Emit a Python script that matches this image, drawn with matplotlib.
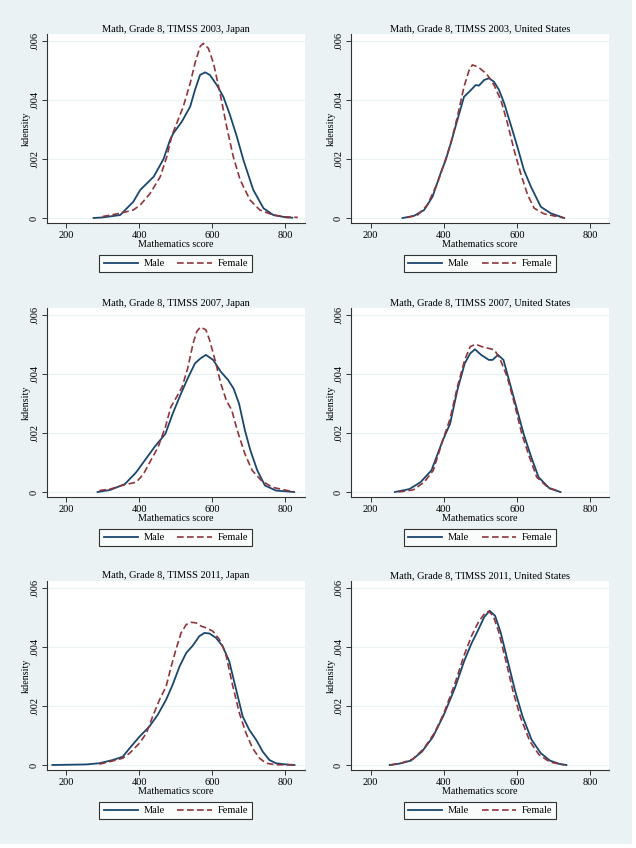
import numpy as np
import matplotlib
matplotlib.use("Agg")
import matplotlib.pyplot as plt
from matplotlib.patches import Rectangle

plt.rcParams['font.family'] = ['Liberation Serif', 'DejaVu Serif']

# kernel density curves: (score, density x 1000)
jp03_m_x = [275, 300, 348, 384, 403, 440, 467, 485, 494, 517, 540, 553, 567, 581, 594, 613, 631, 649, 668, 686, 713, 741, 768, 804, 820]
jp03_m_y = [0.0, 0.02, 0.1, 0.55, 0.95, 1.4, 2.0, 2.65, 2.87, 3.26, 3.77, 4.33, 4.84, 4.93, 4.84, 4.5, 4.1, 3.49, 2.75, 1.96, 0.95, 0.33, 0.1, 0.02, 0.01]
jp03_f_x = [300, 348, 384, 403, 430, 458, 476, 490, 503, 521, 540, 553, 567, 576, 590, 604, 622, 640, 658, 677, 704, 731, 768, 800, 835]
jp03_f_y = [0.05, 0.16, 0.27, 0.44, 0.83, 1.4, 2.08, 2.8, 3.2, 3.77, 4.56, 5.23, 5.8, 5.91, 5.74, 5.23, 4.22, 3.09, 2.08, 1.29, 0.61, 0.27, 0.1, 0.04, 0.02]

us03_m_x = [287, 318, 346, 369, 391, 405, 419, 437, 455, 474, 487, 496, 510, 524, 537, 551, 565, 583, 601, 619, 638, 665, 692, 729]
us03_m_y = [0.0, 0.07, 0.27, 0.72, 1.51, 1.96, 2.53, 3.32, 4.1, 4.33, 4.5, 4.48, 4.67, 4.73, 4.61, 4.33, 3.88, 3.15, 2.41, 1.62, 1.06, 0.38, 0.16, 0.0]
us03_f_x = [300, 328, 355, 382, 401, 419, 437, 455, 469, 478, 492, 505, 519, 537, 556, 574, 592, 610, 629, 647, 674, 729]
us03_f_y = [0.02, 0.1, 0.44, 1.17, 1.85, 2.53, 3.43, 4.44, 5.0, 5.18, 5.12, 5.0, 4.84, 4.5, 3.99, 3.2, 2.3, 1.51, 0.78, 0.33, 0.14, 0.0]

jp07_m_x = [286, 321, 361, 392, 422, 442, 472, 492, 513, 533, 553, 568, 583, 603, 624, 644, 659, 674, 690, 705, 724, 745, 775, 825]
jp07_m_y = [0.0, 0.07, 0.27, 0.67, 1.18, 1.52, 1.97, 2.65, 3.28, 3.84, 4.35, 4.52, 4.64, 4.47, 4.07, 3.79, 3.5, 2.99, 2.09, 1.41, 0.73, 0.22, 0.05, 0.0]
jp07_f_x = [291, 321, 361, 392, 412, 432, 452, 472, 487, 503, 518, 533, 548, 558, 568, 583, 593, 608, 624, 639, 654, 669, 690, 710, 735, 765, 826]
jp07_f_y = [0.05, 0.1, 0.25, 0.33, 0.61, 1.07, 1.52, 2.2, 2.88, 3.22, 3.56, 4.18, 5.03, 5.43, 5.58, 5.49, 5.15, 4.47, 3.67, 3.1, 2.77, 2.09, 1.29, 0.73, 0.39, 0.16, 0.0]

us07_m_x = [266, 306, 336, 366, 397, 417, 437, 457, 472, 485, 502, 523, 533, 548, 563, 578, 598, 618, 639, 659, 689, 719]
us07_m_y = [0.0, 0.1, 0.33, 0.73, 1.75, 2.31, 3.45, 4.35, 4.69, 4.83, 4.64, 4.47, 4.47, 4.64, 4.47, 3.79, 2.88, 1.97, 1.18, 0.5, 0.12, 0.0]
us07_f_x = [276, 316, 346, 371, 397, 417, 437, 457, 472, 487, 508, 523, 538, 553, 573, 593, 613, 634, 654, 684, 719]
us07_f_y = [0.0, 0.07, 0.33, 0.73, 1.75, 2.48, 3.56, 4.47, 4.92, 5.0, 4.9, 4.86, 4.81, 4.52, 3.9, 2.99, 1.97, 1.18, 0.5, 0.16, 0.0]

jp11_m_x = [162, 255, 291, 328, 355, 374, 401, 428, 451, 474, 492, 511, 529, 547, 565, 579, 593, 611, 629, 647, 666, 684, 702, 721, 739, 757, 775, 803, 826]
jp11_m_y = [0.0, 0.02, 0.06, 0.17, 0.28, 0.57, 0.96, 1.3, 1.7, 2.21, 2.72, 3.34, 3.79, 4.04, 4.36, 4.47, 4.45, 4.3, 4.02, 3.51, 2.55, 1.64, 1.19, 0.85, 0.45, 0.17, 0.06, 0.02, 0.0]
jp11_f_x = [291, 328, 355, 374, 401, 420, 437, 456, 474, 488, 501, 515, 529, 542, 556, 570, 584, 602, 620, 637, 657, 675, 693, 711, 730, 748, 775, 826]
jp11_f_y = [0.03, 0.14, 0.23, 0.4, 0.74, 1.08, 1.64, 2.21, 2.66, 3.34, 3.91, 4.47, 4.75, 4.83, 4.81, 4.7, 4.64, 4.53, 4.25, 3.79, 2.66, 1.75, 1.08, 0.57, 0.23, 0.06, 0.01, 0.0]

us11_m_x = [252, 280, 310, 340, 370, 400, 430, 455, 475, 495, 510, 525, 540, 555, 575, 595, 615, 640, 665, 690, 715, 735]
us11_m_y = [0.0, 0.05, 0.15, 0.45, 0.95, 1.7, 2.6, 3.5, 4.1, 4.6, 5.0, 5.22, 5.05, 4.5, 3.5, 2.5, 1.65, 0.85, 0.4, 0.15, 0.04, 0.0]
us11_f_x = [255, 285, 315, 345, 375, 400, 430, 455, 475, 495, 510, 522, 535, 550, 570, 590, 610, 635, 660, 690, 730]
us11_f_y = [0.0, 0.07, 0.2, 0.55, 1.1, 1.75, 2.75, 3.7, 4.35, 4.85, 5.1, 5.2, 5.05, 4.5, 3.5, 2.45, 1.6, 0.8, 0.35, 0.1, 0.0]

panels = [
    ("Math, Grade 8, TIMSS 2003, Japan", jp03_m_x, jp03_m_y, jp03_f_x, jp03_f_y),
    ("Math, Grade 8, TIMSS 2003, United States", us03_m_x, us03_m_y, us03_f_x, us03_f_y),
    ("Math, Grade 8, TIMSS 2007, Japan", jp07_m_x, jp07_m_y, jp07_f_x, jp07_f_y),
    ("Math, Grade 8, TIMSS 2007, United States", us07_m_x, us07_m_y, us07_f_x, us07_f_y),
    ("Math, Grade 8, TIMSS 2011, Japan", jp11_m_x, jp11_m_y, jp11_f_x, jp11_f_y),
    ("Math, Grade 8, TIMSS 2011, United States", us11_m_x, us11_m_y, us11_f_x, us11_f_y),
]
x_ticks = [200, 400, 600, 800]
y_ticks = [0, 0.002, 0.004, 0.006]
y_ticklabels = ["0", ".002", ".004", ".006"]

W, H = 636, 848
bg = '#EAF2F3'
male_col = '#1A476F'
female_col = '#90353B'

fig = plt.figure(figsize=(W / 100, H / 100), dpi=100)
fig.patch.set_facecolor('white')
fig.patches.append(Rectangle((0, 1 - 844 / H), 632 / W, 844 / H, transform=fig.transFigure,
                             facecolor=bg, edgecolor='none', zorder=-5))

lefts = [46.5, 350.7]
bottoms = [223, 497, 770]
ax_w, ax_h = 258.5, 189

for i, (title, mx, my, fx, fy) in enumerate(panels):
    col, row = i % 2, i // 2
    ax = fig.add_axes([lefts[col] / W, 1 - bottoms[row] / H, ax_w / W, ax_h / H])
    ax.set_facecolor('white')
    for s in ['top', 'right']:
        ax.spines[s].set_visible(False)
    for s in ['left', 'bottom']:
        ax.spines[s].set_linewidth(0.8)
        ax.spines[s].set_color('#333333')
    ax.plot(mx, np.array(my) / 1000, color=male_col, lw=1.3, label='Male')
    ax.plot(fx, np.array(fy) / 1000, color=female_col, lw=1.2, ls=(0, (4, 2)), label='Female')
    ax.set_xlim(146 if col == 0 else 145.3, 854.8 if col == 0 else 852)
    ax.set_ylim(-0.000169, 0.006227)
    ax.set_xticks(x_ticks)
    ax.set_yticks(y_ticks)
    ax.set_yticklabels(y_ticklabels, rotation=90, va='center')
    ax.tick_params(labelsize=7.5, length=3.5, width=0.7, pad=2, color='#333333')
    ax.grid(axis='y', color=bg, lw=0.9)
    ax.set_axisbelow(True)
    ax.set_title(title, fontsize=7.5, pad=1.8)
    ax.set_xlabel("Mathematics score", fontsize=7.2, labelpad=0.3)
    ax.set_ylabel("kdensity", fontsize=7.2, labelpad=-1)
    leg = ax.legend(loc='upper center', bbox_to_anchor=(0.5, -0.168), ncol=2, fontsize=7.5,
                    frameon=True, fancybox=False, edgecolor='black', handlelength=3.3,
                    columnspacing=1.2, handletextpad=0.55, borderpad=0.4, borderaxespad=0)
    leg.get_frame().set_linewidth(0.8)

fig.savefig("out.png", dpi=100, facecolor=fig.get_facecolor())
